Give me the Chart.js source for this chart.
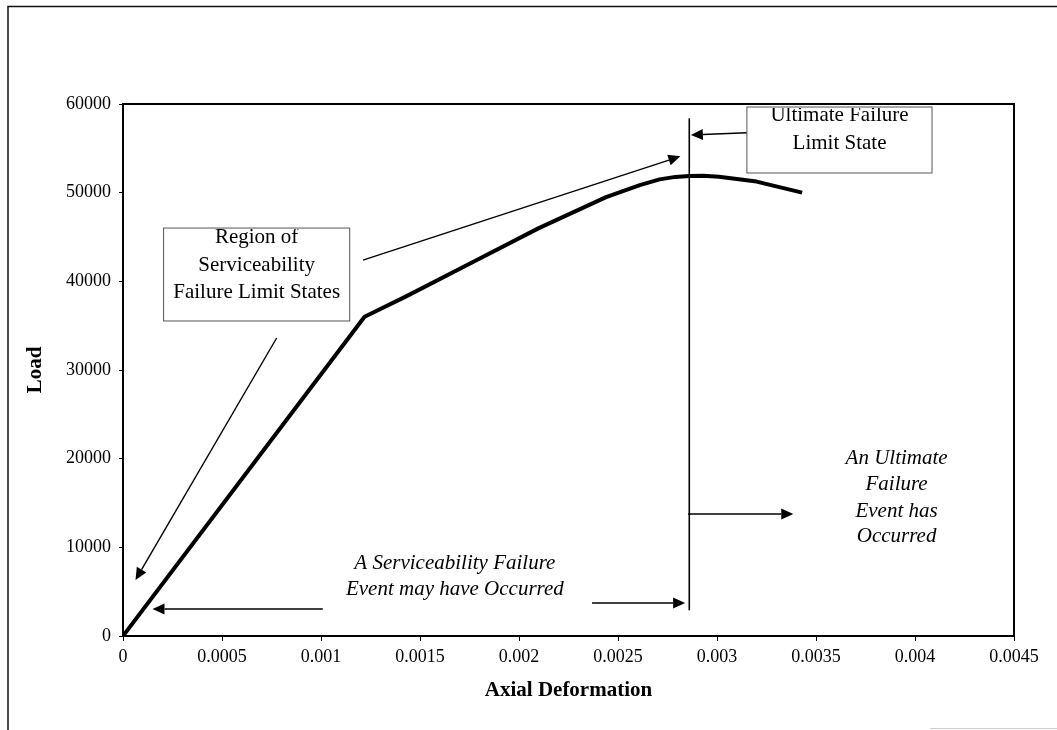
<!DOCTYPE html>
<html>
<head>
<meta charset="utf-8">
<script src="https://cdn.jsdelivr.net/npm/chart.js@4"></script>
<style>
    body { margin: 0; background: #fff; }
    .wrap { position: relative; width: 1057px; height: 730px; }
</style>
</head>
<body>
<div class="wrap"><canvas id="chart"></canvas></div>
<script>

// load - deformation curve
let deformation = [0, 0.00122, 0.00143, 0.00177, 0.0021, 0.00244, 0.00261, 0.00271, 0.00279, 0.00286, 0.00293, 0.00301, 0.0032, 0.00343]
let load = [0, 36000, 38300, 42200, 46000, 49500, 50850, 51500, 51780, 51880, 51900, 51800, 51250, 50000]

let xTicks = [0, 0.0005, 0.001, 0.0015, 0.002, 0.0025, 0.003, 0.0035, 0.004, 0.0045]
let xTickLabels = ['0', '0.0005', '0.001', '0.0015', '0.002', '0.0025', '0.003', '0.0035', '0.004', '0.0045']
let yTicks = [0, 10000, 20000, 30000, 40000, 50000, 60000]
let yTickLabels = ['0', '10000', '20000', '30000', '40000', '50000', '60000']

// annotation geometry, in data units (deformation, load)
let ultimateX = 0.00286
let ultimateLine = [2900, 58400]

let arrows = [
    [0.001212, 42400, 0.002815, 54100],
    [0.000776, 33610, 0.0000632, 6316],
    [0.001009, 3045, 0.000149, 3045],
    [0.002369, 3720, 0.002839, 3720],
    [0.002854, 13760, 0.003385, 13760],
    [0.003151, 56760, 0.002868, 56500]
]

let boxes = [
    { x0: 0.000205, x1: 0.001145, y0: 46010, y1: 35530, cx: 0.000675,
      lines: ['Region of', 'Serviceability', 'Failure Limit States'], base: [44350, 41200, 38150] },
    { x0: 0.003151, x1: 0.004086, y0: 59660, y1: 52220, cx: 0.003619,
      lines: ['Ultimate Failure', 'Limit State'], base: [58050, 54950] }
]

let notes = [
    { cx: 0.001676, lines: ['A Serviceability Failure', 'Event may have Occurred'], base: [7556, 4624] },
    { cx: 0.003907, lines: ['An Ultimate', 'Failure', 'Event has', 'Occurred'], base: [19400, 16470, 13450, 10570] }
]

Chart.defaults.color = '#000'
Chart.defaults.font.family = '"Liberation Serif", "Times New Roman", serif'

function draw_arrow(ctx, x1, y1, x2, y2) {
    let ang = Math.atan2(y2 - y1, x2 - x1)
    let len = 12, half = 5.5
    let bx = x2 - len * Math.cos(ang), by = y2 - len * Math.sin(ang)
    ctx.beginPath()
    ctx.moveTo(x1, y1)
    ctx.lineTo(bx, by)
    ctx.stroke()
    ctx.beginPath()
    ctx.moveTo(x2, y2)
    ctx.lineTo(bx + half * Math.sin(ang), by - half * Math.cos(ang))
    ctx.lineTo(bx - half * Math.sin(ang), by + half * Math.cos(ang))
    ctx.closePath()
    ctx.fill()
}

let frame = {
    id: 'frame',
    beforeDraw(chart) {
        let ctx = chart.ctx
        ctx.save()
        ctx.fillStyle = '#fff'
        ctx.fillRect(0, 0, chart.width, chart.height)
        ctx.strokeStyle = '#111'
        ctx.lineWidth = 1.5
        ctx.beginPath()
        ctx.moveTo(8, chart.height)
        ctx.lineTo(8, 6.5)
        ctx.lineTo(chart.width, 6.5)
        ctx.stroke()
        ctx.strokeStyle = '#ccc'
        ctx.lineWidth = 1
        ctx.beginPath()
        ctx.moveTo(930, 728.5)
        ctx.lineTo(chart.width, 728.5)
        ctx.stroke()
        ctx.restore()
    },
    afterDraw(chart) {
        let ctx = chart.ctx
        let a = chart.chartArea
        let xs = chart.scales.x, ys = chart.scales.y
        let px = v => xs.getPixelForValue(v)
        let py = v => ys.getPixelForValue(v)
        ctx.save()

        // plot box
        ctx.strokeStyle = '#000'
        ctx.lineWidth = 2
        ctx.strokeRect(a.left, a.top, a.right - a.left, a.bottom - a.top)

        // ultimate limit line
        ctx.lineWidth = 1.6
        ctx.beginPath()
        ctx.moveTo(px(ultimateX), py(ultimateLine[0]))
        ctx.lineTo(px(ultimateX), py(ultimateLine[1]))
        ctx.stroke()

        // arrows
        ctx.lineWidth = 1.4
        ctx.fillStyle = '#000'
        arrows.forEach(r => draw_arrow(ctx, px(r[0]), py(r[1]), px(r[2]), py(r[3])))

        // text boxes
        ctx.textAlign = 'center'
        ctx.textBaseline = 'alphabetic'
        boxes.forEach(b => {
            let x0 = px(b.x0), x1 = px(b.x1), y0 = py(b.y0), y1 = py(b.y1)
            ctx.save()
            ctx.fillStyle = '#fff'
            ctx.fillRect(x0, y0, x1 - x0, y1 - y0)
            ctx.strokeStyle = '#555'
            ctx.lineWidth = 1
            ctx.strokeRect(x0, y0, x1 - x0, y1 - y0)
            ctx.beginPath()
            ctx.rect(x0, y0 + 1, x1 - x0, y1 - y0)
            ctx.clip()
            ctx.fillStyle = '#000'
            ctx.font = '21px "Liberation Serif", serif'
            b.lines.forEach((t, i) => ctx.fillText(t, px(b.cx), py(b.base[i])))
            ctx.restore()
        })

        // italic notes
        ctx.font = 'italic 21px "Liberation Serif", serif'
        notes.forEach(n => {
            n.lines.forEach((t, i) => ctx.fillText(t, px(n.cx), py(n.base[i])))
        })
        ctx.restore()
    }
}

let points = deformation.map((d, i) => ({ x: d, y: load[i] }))

let chart = new Chart(document.getElementById('chart'), {
    type: 'scatter',
    data: {
        datasets: [{
            data: points,
            showLine: true,
            borderColor: '#000',
            borderWidth: 4,
            borderJoinStyle: 'round',
            pointRadius: 0,
            tension: 0
        }]
    },
    options: {
        responsive: true,
        maintainAspectRatio: false,
        animation: false,
        layout: { padding: { left: 0, top: 104, right: 43, bottom: 0 } },
        plugins: { legend: { display: false }, tooltip: { enabled: false } },
        scales: {
            x: {
                type: 'linear',
                min: 0,
                max: 0.0045,
                afterBuildTicks: s => { s.ticks = xTicks.map(v => ({ value: v })) },
                afterFit: s => { s.height = 94 },
                ticks: {
                    font: { size: 18 },
                    padding: 5,
                    maxRotation: 0,
                    autoSkip: false,
                    callback: (v, i) => xTickLabels[i]
                },
                grid: { drawOnChartArea: false, drawTicks: true, tickLength: 5, color: '#000' },
                border: { display: false },
                title: {
                    display: true,
                    text: 'Axial Deformation',
                    font: { size: 21, weight: 'bold' },
                    padding: { top: 0, bottom: 27 }
                }
            },
            y: {
                type: 'linear',
                min: 0,
                max: 60000,
                afterBuildTicks: s => { s.ticks = yTicks.map(v => ({ value: v })) },
                afterFit: s => { s.width = 123 },
                ticks: {
                    font: { size: 18 },
                    padding: 8,
                    autoSkip: false,
                    callback: (v, i) => yTickLabels[i]
                },
                grid: { drawOnChartArea: false, drawTicks: true, tickLength: 4, color: '#000' },
                border: { display: false },
                title: {
                    display: true,
                    text: 'Load',
                    font: { size: 21, weight: 'bold' },
                    padding: { top: 23, bottom: 0 }
                }
            }
        }
    },
    plugins: [frame]
})
</script>
</body>
</html>
